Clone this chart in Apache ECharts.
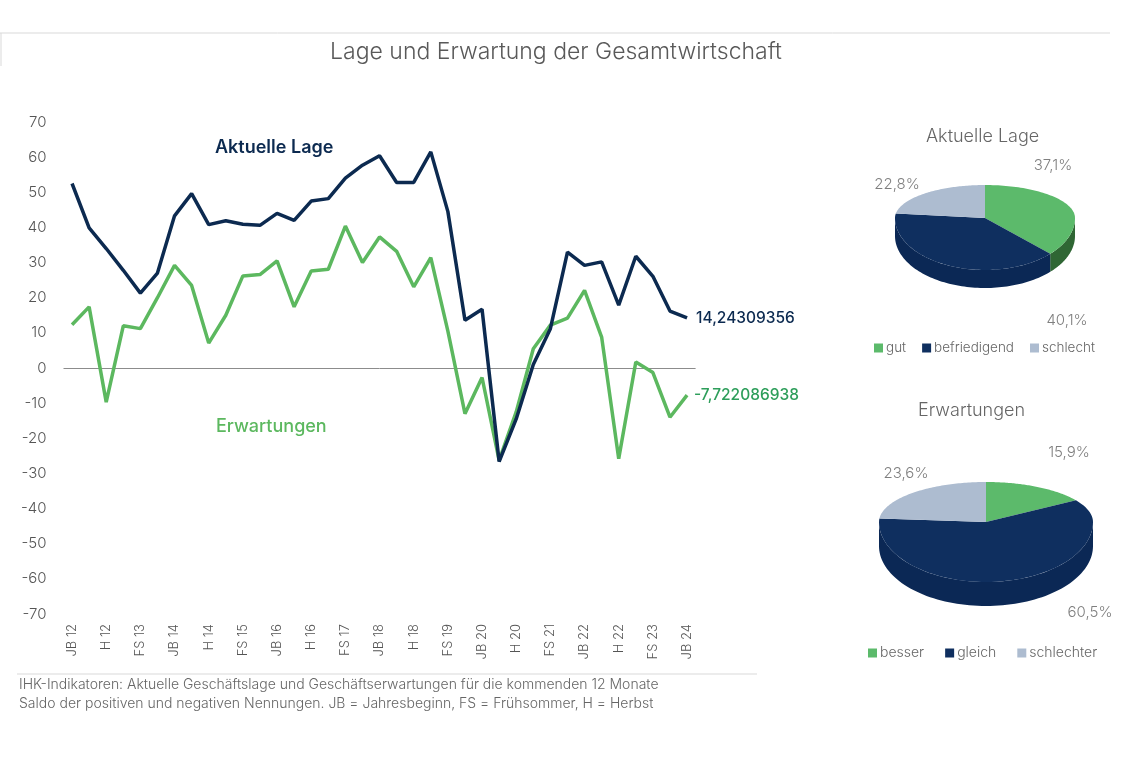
<!DOCTYPE html>
<html><head><meta charset="utf-8">
<script src="https://cdn.jsdelivr.net/npm/echarts@6/dist/echarts.min.js"></script>
<style>html,body{margin:0;padding:0;background:#fff}#c{width:1140px;height:760px}</style>
</head><body><div id="c"></div>
<script>
const categories = ['JB 12','FS 12','H 12','JB 13','FS 13','H 13','JB 14','FS 14','H 14','JB 15','FS 15','H 15',
  'JB 16','FS 16','H 16','JB 17','FS 17','H 17','JB 18','FS 18','H 18','JB 19','FS 19','H 19',
  'JB 20','FS 20','H 20','JB 21','FS 21','H 21','JB 22','FS 22','H 22','JB 23','FS 23','H 23','JB 24'];
const lage = [52.5, 39.9, 34, 27.8, 21.3, 27, 43.3, 49.6, 40.8, 41.9, 40.9, 40.6,
  44, 42, 47.5, 48.2, 54, 57.7, 60.4, 52.8, 52.8, 61.5, 44.5, 13.6,
  16.7, -26.6, -14.5, 1, 11.2, 33, 29.2, 30.2, 17.9, 31.8, 26.1, 16.2, 14.24309356];
const erwartungen = [12.3, 17.4, -9.7, 12, 11.2, 20, 29.2, 23.5, 7.1, 15, 26.2, 26.6,
  30.5, 17.4, 27.6, 28.1, 40.4, 30, 37.3, 33.2, 23.1, 31.4, 10.5, -13,
  -2.7, -26.3, -12.5, 5.5, 12.2, 14.2, 22.1, 8.8, -25.8, 1.7, -1.3, -14, -7.722086938];
const lageNames = ['gut', 'befriedigend', 'schlecht'];
const lageShares = [37.1, 40.1, 22.8];
const erwNames = ['besser', 'gleich', 'schlechter'];
const erwShares = [15.9, 60.5, 23.6];

const FONT = 'Inter, "Open Sans", sans-serif';
const NAVY = '#0c2a50', GREEN = '#5cb85f';
const sliceColors = ['#5cba6b', '#0f2f5f', '#adbcd0'];
const sideColors = ['#2f6634', '#0b2855', '#8795a8'];

const pie1 = {cx: 985, cy: 218, rx: 90, ryFar: 33, ryNear: 52, depth: 18,
  labelOff: [[68, -53], [82, 102], [-88, -34]]};
const pie2 = {cx: 986, cy: 522, rx: 107, ryFar: 40, ryNear: 60, depth: 24,
  labelOff: [[83, -70], [104, 90], [-80, -49]]};

function ellPt(p, th) {
  const s = Math.sin(th), c = Math.cos(th);
  const ry = c > 0 ? p.ryFar : p.ryNear;
  return [p.cx + p.rx * s, p.cy - ry * c];
}
function sliceSeries(p, names, shares, i) {
  const total = shares.reduce((a, b) => a + b, 0);
  let before = 0;
  for (let k = 0; k < i; k++) before += shares[k];
  return {
    type: 'custom', name: names[i], coordinateSystem: 'none',
    itemStyle: {color: sliceColors[i]},
    data: [[before / total, (before + shares[i]) / total, shares[i]]],
    renderItem: function (params, api) {
      const a0 = api.value(0) * 2 * Math.PI, a1 = api.value(1) * 2 * Math.PI;
      const N = 80;
      const top = [[p.cx, p.cy]];
      for (let k = 0; k <= N; k++) top.push(ellPt(p, a0 + (a1 - a0) * k / N));
      const children = [];
      const s0 = Math.max(a0, Math.PI / 2), s1 = Math.min(a1, 1.5 * Math.PI);
      if (s1 > s0) {
        const up = [], dn = [];
        for (let k = 0; k <= N; k++) {
          const q = ellPt(p, s0 + (s1 - s0) * k / N);
          up.push(q); dn.push([q[0], q[1] + p.depth]);
        }
        children.push({type: 'polygon', shape: {points: up.concat(dn.reverse())}, style: {fill: sideColors[i]}});
      }
      children.push({type: 'polygon', shape: {points: top}, style: {fill: sliceColors[i]}});
      children.push({type: 'text', x: p.cx + p.labelOff[i][0], y: p.cy + p.labelOff[i][1],
        style: {text: String(api.value(2)).replace('.', ',') + '%', fill: '#7f7f7f',
          font: '300 15px ' + FONT, align: 'center', verticalAlign: 'middle'}});
      return {type: 'group', children: children};
    }
  };
}

const chart = echarts.init(document.getElementById('c'));
const endFmt = v => String(v.value).replace('.', ',');
chart.setOption({
  backgroundColor: '#fff',
  animation: false,
  textStyle: {fontFamily: FONT},
  title: {text: 'Lage und Erwartung der Gesamtwirtschaft', left: 551, top: 36, textAlign: 'center',
    textStyle: {fontSize: 23, fontWeight: 300, color: '#595959', fontFamily: FONT}},
  grid: {left: 63.5, right: 444.4, top: 122, bottom: 146},
  xAxis: {type: 'category', data: categories, boundaryGap: true,
    axisLine: {show: false}, axisTick: {show: false},
    axisLabel: {interval: 1, rotate: 90, fontSize: 13, fontWeight: 300, color: '#555', margin: 10, fontFamily: FONT}},
  yAxis: {type: 'value', min: -70, max: 70, interval: 10,
    splitLine: {show: false}, axisLine: {show: false}, axisTick: {show: false},
    axisLabel: {fontSize: 15, fontWeight: 300, color: '#555', margin: 17, fontFamily: FONT}},
  legend: [
    {data: lageNames, left: 874, top: 341, icon: 'rect', itemWidth: 9, itemHeight: 9, itemGap: 16, padding: 0,
      textStyle: {fontSize: 13.5, fontWeight: 300, color: '#666', fontFamily: FONT, padding: [0, 0, 0, -2]}, selectedMode: false},
    {data: erwNames, left: 868, top: 646, icon: 'rect', itemWidth: 9, itemHeight: 9, itemGap: 21, padding: 0,
      textStyle: {fontSize: 14, fontWeight: 300, color: '#666', fontFamily: FONT, padding: [0, 0, 0, -2]}, selectedMode: false}
  ],
  graphic: [
    {type: 'line', shape: {x1: 0, y1: 33, x2: 1110, y2: 33}, style: {stroke: '#d9d9d9', lineWidth: 1}},
    {type: 'line', shape: {x1: 1, y1: 33, x2: 1, y2: 66}, style: {stroke: '#d9d9d9', lineWidth: 1}},
    {type: 'line', shape: {x1: 17, y1: 674, x2: 757, y2: 674}, style: {stroke: '#d9d9d9', lineWidth: 1}},
    {type: 'text', left: 215, top: 139, style: {text: 'Aktuelle Lage', fill: NAVY, font: '600 18px ' + FONT}},
    {type: 'text', left: 216, top: 418, style: {text: 'Erwartungen', fill: GREEN, font: '500 18px ' + FONT}},
    {type: 'text', left: 926, top: 128, style: {text: 'Aktuelle Lage', fill: '#666', font: '300 18px ' + FONT}},
    {type: 'text', left: 918, top: 402, style: {text: 'Erwartungen', fill: '#666', font: '300 18px ' + FONT}},
    {type: 'text', left: 19, top: 678, style: {text: 'IHK-Indikatoren: Aktuelle Geschäftslage und Geschäftserwartungen für die kommenden 12 Monate', fill: '#666', font: '300 14px ' + FONT}},
    {type: 'text', left: 19, top: 697, style: {text: 'Saldo der positiven und negativen Nennungen. JB = Jahresbeginn, FS = Frühsommer, H = Herbst', fill: '#666', font: '300 14px ' + FONT}}
  ],
  series: [
    {type: 'line', name: 'Erwartungen', data: erwartungen, symbol: 'none', z: 3,
      lineStyle: {color: GREEN, width: 3.5}, itemStyle: {color: GREEN},
      endLabel: {show: true, formatter: endFmt, color: '#2e9e5b', fontSize: 15.5, fontWeight: 500, distance: 7, fontFamily: FONT},
      markLine: {silent: true, symbol: 'none', label: {show: false}, z: 1,
        lineStyle: {color: '#8c8c8c', width: 1, type: 'solid'}, data: [{yAxis: 0}]}},
    {type: 'line', name: 'Aktuelle Lage', data: lage, symbol: 'none', z: 4,
      lineStyle: {color: NAVY, width: 3.5}, itemStyle: {color: NAVY},
      endLabel: {show: true, formatter: endFmt, color: NAVY, fontSize: 15.5, fontWeight: 500, distance: 9, fontFamily: FONT}},
    sliceSeries(pie1, lageNames, lageShares, 0),
    sliceSeries(pie1, lageNames, lageShares, 1),
    sliceSeries(pie1, lageNames, lageShares, 2),
    sliceSeries(pie2, erwNames, erwShares, 0),
    sliceSeries(pie2, erwNames, erwShares, 1),
    sliceSeries(pie2, erwNames, erwShares, 2)
  ]
});
</script></body></html>
